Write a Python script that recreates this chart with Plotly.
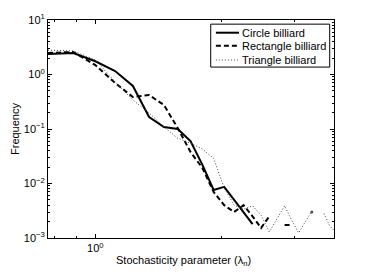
import plotly.graph_objects as go

x_vals = [0.77, 0.885, 1.0, 1.115, 1.23, 1.345, 1.46, 1.575, 1.69, 1.805, 1.92, 2.035,
          2.15, 2.265, 2.38, 2.495, 2.61, 2.725, 2.84, 2.955, 3.07, 3.185, 3.30, 3.415,
          3.53, 3.645, 3.76]

circle = [2.38, 2.48, 1.75, 1.16, 0.615, 0.166, 0.109, 0.100, 0.060, 0.022, 0.0076, 0.0087,
          0.0050, 0.0030, 0.0018, None, None, None, None, None, None, None, None, None,
          None, None, None]

rectangle = [2.48, 2.59, 1.49, 0.70, 0.386, 0.42, 0.275, 0.104, 0.038, 0.0192, 0.0070, 0.0040,
             0.0030, 0.0040, 0.0025, 0.00153, 0.0025, None, 0.00173, 0.00173, None, None,
             0.0030, None, None, None, None]

triangle = [2.81, 2.70, 1.85, 0.728, 0.34, 0.197, 0.109, 0.068, 0.055, 0.043, 0.029, 0.0083,
            0.0040, 0.0034, 0.0039, 0.0026, 0.00129, 0.0023, 0.0039, 0.0021, 0.00124, 0.0020,
            0.0031, None, 0.0028, 0.00166, 0.00129]

names = ["Circle billiard", "Rectangle billiard", "Triangle billiard"]

y_tickvals = [1e-3, 1e-2, 1e-1, 1e0, 1e1]
y_ticktext = ["10<sup>−3</sup>", "10<sup>−2</sup>", "10<sup>−1</sup>", "10<sup>0</sup>", "10<sup>1</sup>"]
x_tickvals = [1]
x_ticktext = ["10<sup>0</sup>"]

FONT = "Liberation Sans, Arial, sans-serif"
styles = [dict(color="black", width=2, dash="solid"),
          dict(color="black", width=2, dash="5px,3px"),
          dict(color="#444444", width=1, dash="1px,2px")]

fig = go.Figure()
series = [circle, rectangle, triangle]
for i, (nm, ys) in enumerate(zip(names, series)):
    if i == 1:
        sizes = [3 if (v is not None and (k == 0 or ys[k - 1] is None) and
                       (k == len(ys) - 1 or ys[k + 1] is None)) else 0
                 for k, v in enumerate(ys)]
        fig.add_trace(go.Scatter(x=x_vals, y=ys, mode="lines+markers", name=nm,
                                 line=styles[i], showlegend=False,
                                 marker=dict(size=sizes, color="black", line=dict(width=0))))
    else:
        fig.add_trace(go.Scatter(x=x_vals, y=ys, mode="lines", name=nm,
                                 line=styles[i], showlegend=False))

axis_common = dict(
    type="log", showgrid=False, zeroline=False, showline=True, linecolor="black",
    linewidth=1, mirror="ticks", ticks="inside", ticklen=4, tickcolor="black",
    tickmode="array", automargin=False,
    tickfont=dict(family=FONT, size=11, color="black"),
    minor=dict(ticks="inside", ticklen=2, tickcolor="black", dtick="D1", showgrid=False),
)

fig.update_xaxes(range=[-0.1135, 0.5717], tickvals=x_tickvals, ticktext=x_ticktext, **axis_common)
fig.update_yaxes(range=[-3, 1], tickvals=y_tickvals, ticktext=y_ticktext, **axis_common)

# axis titles
fig.add_annotation(text="Stochasticity parameter (λ<sub>n</sub>)", xref="paper", yref="paper",
                   x=0.4755, y=0, yanchor="middle", xanchor="center", yshift=-23,
                   showarrow=False, font=dict(family=FONT, size=11, color="black"))
fig.add_annotation(text="Frequency", xref="paper", yref="paper", x=0, y=0.5,
                   xanchor="center", yanchor="middle", xshift=-33, textangle=-90,
                   showarrow=False, font=dict(family=FONT, size=11, color="black"))

# legend box
fig.add_shape(type="rect", xref="paper", yref="paper", x0=0.569, x1=0.985, y0=0.784, y1=0.981,
              line=dict(color="black", width=1), fillcolor="white", layer="above")
rows = [0.9417, 0.882, 0.8165]
for nm, st, ry in zip(names, styles, rows):
    fig.add_shape(type="line", xref="paper", yref="paper", x0=0.587, x1=0.668, y0=ry, y1=ry,
                  line=st, layer="above")
    fig.add_annotation(text=nm, xref="paper", yref="paper", x=0.672, y=ry, xanchor="left",
                       yanchor="middle", showarrow=False,
                       font=dict(family=FONT, size=11, color="black"))

# page body has an 8px margin: the figure is 8px smaller, left/top margins reduced by 8
fig.update_layout(
    width=360, height=269,
    margin=dict(l=40, r=34, t=12, b=39),
    paper_bgcolor="white", plot_bgcolor="white",
    font=dict(family=FONT, size=11, color="black"),
    showlegend=False,
)

fig.write_html("out.html")
